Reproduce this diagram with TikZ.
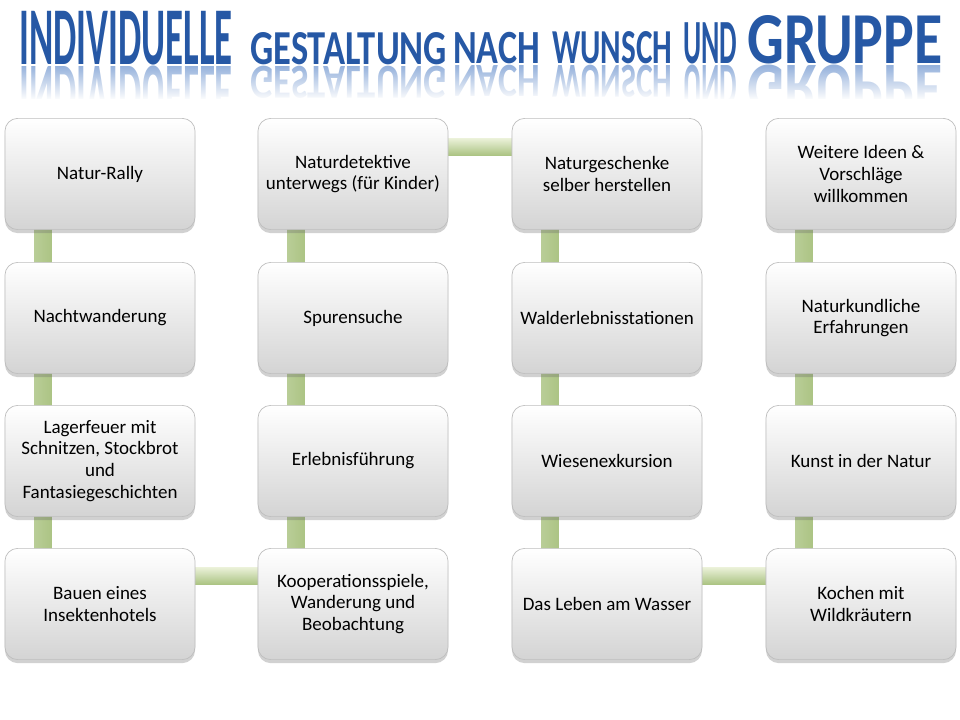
\documentclass[tikz,border=0pt]{standalone}
\usepackage{fontspec}
\setmainfont{Carlito}
\usetikzlibrary{calc,shadows,fadings,backgrounds}

\definecolor{titleblue}{RGB}{38,88,165}
\definecolor{mirrorblue}{RGB}{150,178,220}
\definecolor{barlight}{RGB}{236,242,218}
\definecolor{bardark}{RGB}{172,196,132}
\definecolor{boxedge}{RGB}{190,190,190}

\begin{document}
\begin{tikzpicture}[x=0.025cm,y=-0.025cm,
 box/.style={draw=boxedge,line width=0.5pt,rounded corners=9pt,align=center,inner sep=3pt,
  minimum width=4.75cm,minimum height=2.78cm,top color=white,bottom color=black!17,
  font=\fontsize{13.5}{15.5}\selectfont,
  drop shadow={shadow xshift=0pt,shadow yshift=-2.5pt,opacity=0.3,fill=black!60}},
 vbar/.style={left color=bardark!85,middle color=barlight,right color=bardark},
 hbar/.style={top color=barlight,middle color=bardark!80,bottom color=bardark},
 ttl/.style={anchor=base west,inner sep=0pt,text=titleblue,font=\bfseries},
 mir/.style={anchor=north west,inner sep=0pt,text=mirrorblue,font=\bfseries}]
\useasboundingbox (0,0) rectangle (960,720);
% title
\node[ttl] (t1) at (19,65) {\resizebox{5.33cm}{1.33cm}{INDIVIDUELLE}};
\node[ttl] (t2) at (250,65) {\resizebox{4.92cm}{0.8cm}{GESTALTUNG}};
\node[ttl] (t3) at (453,64) {\resizebox{2.17cm}{0.78cm}{NACH}};
\node[ttl] (t4) at (552,64) {\resizebox{3.0cm}{0.8cm}{WUNSCH}};
\node[ttl] (t5) at (683,64) {\resizebox{1.35cm}{1.02cm}{UND}};
\node[ttl] (t6) at (747,64) {\resizebox{4.88cm}{1.2cm}{GRUPPE}};
\node[mir] (m1) at (19,66) {\scalebox{1}[-1]{\resizebox{5.33cm}{1.33cm}{INDIVIDUELLE}}};
\node[mir] (m2) at (250,66) {\scalebox{1}[-1]{\resizebox{4.92cm}{0.8cm}{GESTALTUNG}}};
\node[mir] (m3) at (453,65) {\scalebox{1}[-1]{\resizebox{2.17cm}{0.78cm}{NACH}}};
\node[mir] (m4) at (552,65) {\scalebox{1}[-1]{\resizebox{3.0cm}{0.8cm}{WUNSCH}}};
\node[mir] (m5) at (683,65) {\scalebox{1}[-1]{\resizebox{1.35cm}{1.02cm}{UND}}};
\node[mir] (m6) at (747,65) {\scalebox{1}[-1]{\resizebox{4.88cm}{1.2cm}{GRUPPE}}};
\fill[white,path fading=north] (0,66) rectangle (960,100);
\fill[white] (0,99) rectangle (960,122);
% boxes
\node[box] (n1) at (100,174) {Natur-Rally};
\node[box] (n2) at (100,318) {Nachtwanderung};
\node[box] (n3) at (100,461) {Lagerfeuer mit\\Schnitzen, Stockbrot\\und\\Fantasiegeschichten};
\node[box] (n4) at (100,604) {Bauen eines\\Insektenhotels};
\node[box] (n5) at (353,604) {Kooperationsspiele,\\Wanderung und\\Beobachtung};
\node[box] (n6) at (353,461) {Erlebnisführung};
\node[box] (n7) at (353,318) {Spurensuche};
\node[box] (n8) at (353,174) {Naturdetektive\\unterwegs (für Kinder)};
\node[box] (n9) at (607,174) {Naturgeschenke\\selber herstellen};
\node[box] (n10) at (607,318) {Walderlebnisstationen};
\node[box] (n11) at (607,461) {Wiesenexkursion};
\node[box] (n12) at (607,604) {Das Leben am Wasser};
\node[box] (n13) at (861,604) {Kochen mit\\Wildkräutern};
\node[box] (n14) at (861,461) {Kunst in der Natur};
\node[box] (n15) at (861,318) {Naturkundliche\\Erfahrungen};
\node[box] (n16) at (861,174) {Weitere Ideen \&\\Vorschläge\\willkommen};
% connectors
\begin{scope}[on background layer]
\shade[vbar] ($(n1.south west)+(30,-4)$) rectangle ($(n2.north west)+(47,4)$);
\shade[vbar] ($(n2.south west)+(30,-4)$) rectangle ($(n3.north west)+(47,4)$);
\shade[vbar] ($(n3.south west)+(30,-4)$) rectangle ($(n4.north west)+(47,4)$);
\shade[hbar] ($(n4.north east)+(-4,19)$) rectangle ($(n5.north west)+(4,36)$);
\shade[vbar] ($(n5.north west)+(30,4)$) rectangle ($(n6.south west)+(47,-4)$);
\shade[vbar] ($(n6.north west)+(30,4)$) rectangle ($(n7.south west)+(47,-4)$);
\shade[vbar] ($(n7.north west)+(30,4)$) rectangle ($(n8.south west)+(47,-4)$);
\shade[hbar] ($(n8.north east)+(-4,20)$) rectangle ($(n9.north west)+(4,37)$);
\shade[vbar] ($(n9.south west)+(30,-4)$) rectangle ($(n10.north west)+(47,4)$);
\shade[vbar] ($(n10.south west)+(30,-4)$) rectangle ($(n11.north west)+(47,4)$);
\shade[vbar] ($(n11.south west)+(30,-4)$) rectangle ($(n12.north west)+(47,4)$);
\shade[hbar] ($(n12.north east)+(-4,19)$) rectangle ($(n13.north west)+(4,36)$);
\shade[vbar] ($(n13.north west)+(30,4)$) rectangle ($(n14.south west)+(47,-4)$);
\shade[vbar] ($(n14.north west)+(30,4)$) rectangle ($(n15.south west)+(47,-4)$);
\shade[vbar] ($(n15.north west)+(30,4)$) rectangle ($(n16.south west)+(47,-4)$);
\end{scope}
\end{tikzpicture}
\end{document}
